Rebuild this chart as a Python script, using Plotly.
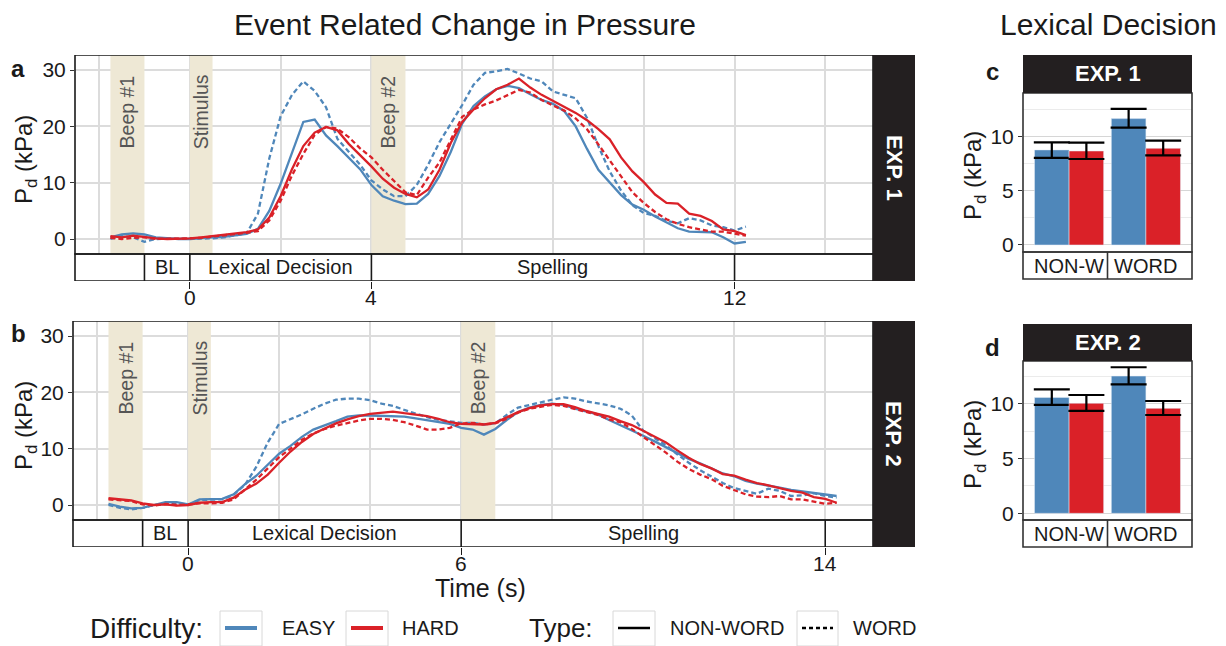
import plotly.graph_objects as go

# ---------------- data ----------------
TIME_1 = [-1.75, -1.5, -1.25, -1.0, -0.75, -0.5, -0.25, 0.0, 0.25, 0.5, 0.75, 1.0, 1.25, 1.5, 1.75,
          2.0, 2.25, 2.5, 2.75, 3.0, 3.25, 3.5, 3.75, 4.0, 4.25, 4.5, 4.75, 5.0, 5.25, 5.5, 5.75,
          6.0, 6.25, 6.5, 6.75, 7.0, 7.25, 7.5, 7.75, 8.0, 8.25, 8.5, 8.75, 9.0, 9.25, 9.5, 9.75,
          10.0, 10.25, 10.5, 10.75, 11.0, 11.25, 11.5, 11.75, 12.0, 12.25]

EASY_NONWORD_1 = [0.3, 0.8, 1.0, 0.8, 0.3, 0.1, 0.0, 0.0, 0.2, 0.3, 0.4, 0.6, 0.9, 1.8, 5.0,
                  9.8, 15.5, 20.8, 21.2, 18.4, 16.5, 14.5, 12.4, 9.6, 7.6, 6.8, 6.2, 6.3, 8.0, 11.2, 15.5,
                  20.5, 23.6, 25.3, 26.6, 27.2, 26.8, 25.7, 24.7, 24.0, 22.7, 20.0, 16.0, 12.3, 10.0, 7.8, 6.1,
                  5.2, 4.0, 3.0, 1.9, 1.3, 1.3, 1.2, 0.3, -0.8, -0.5]
EASY_WORD_1 = [0.0, 0.5, 0.3, -0.5, 0.0, 0.0, 0.0, 0.0, 0.0, 0.1, 0.3, 0.6, 1.0, 4.5, 14.3,
               21.8, 25.6, 28.0, 26.3, 23.4, 17.8, 15.5, 13.2, 10.4, 8.8, 7.6, 7.6, 9.6, 13.2, 17.2, 20.5,
               23.8, 27.4, 29.5, 29.8, 30.2, 29.4, 28.5, 28.0, 26.2, 25.6, 25.0, 21.5, 16.5, 12.0, 8.6, 6.0,
               4.6, 4.1, 3.2, 2.8, 3.7, 3.3, 2.4, 2.1, 1.5, 2.2]
HARD_NONWORD_1 = [0.5, 0.3, 0.6, 0.3, 0.1, 0.0, 0.0, 0.1, 0.3, 0.5, 0.7, 1.0, 1.2, 1.7, 3.8,
                  7.6, 12.4, 16.5, 18.9, 19.9, 19.3, 16.9, 14.9, 12.9, 10.7, 9.1, 8.0, 7.4, 8.8, 12.3, 17.1,
                  20.8, 23.0, 25.0, 26.6, 27.4, 28.5, 26.9, 25.6, 24.5, 23.4, 22.4, 21.1, 19.5, 17.7, 14.5, 12.0,
                  10.1, 7.9, 6.4, 6.3, 4.5, 4.1, 3.2, 1.7, 1.4, 0.7]
HARD_WORD_1 = [0.2, 0.0, 0.2, 0.3, 0.0, 0.0, 0.0, 0.1, 0.2, 0.4, 0.6, 0.9, 1.1, 1.4, 3.3,
               6.8, 11.3, 15.1, 18.5, 19.9, 19.6, 18.1, 16.1, 14.5, 12.3, 10.3, 8.3, 7.8, 10.9, 13.6, 17.6,
               21.7, 23.0, 23.9, 24.6, 25.6, 26.5, 26.0, 24.7, 23.7, 22.8, 21.4, 19.5, 16.8, 14.0, 11.0, 8.3,
               6.4, 4.8, 3.5, 2.7, 2.1, 1.7, 1.3, 1.3, 1.0, 0.6]

TIME_2 = [-1.75, -1.5, -1.25, -1.0, -0.75, -0.5, -0.25, 0.0, 0.25, 0.5, 0.75, 1.0, 1.25, 1.5, 1.75,
          2.0, 2.25, 2.5, 2.75, 3.0, 3.25, 3.5, 3.75, 4.0, 4.25, 4.5, 4.75, 5.0, 5.25, 5.5, 5.75,
          6.0, 6.25, 6.5, 6.75, 7.0, 7.25, 7.5, 7.75, 8.0, 8.25, 8.5, 8.75, 9.0, 9.25, 9.5, 9.75,
          10.0, 10.25, 10.5, 10.75, 11.0, 11.25, 11.5, 11.75, 12.0, 12.25, 12.5, 12.75, 13.0, 13.25,
          13.5, 13.75, 14.0, 14.25]

EASY_NONWORD_2 = [0.2, -0.3, -0.6, -0.5, 0.0, 0.5, 0.5, 0.1, 1.0, 1.1, 1.1, 1.9, 3.7, 5.2, 7.2,
                  9.1, 10.5, 12.1, 13.4, 14.1, 14.9, 15.7, 15.9, 15.9, 15.8, 15.8, 15.7, 15.4, 15.1, 14.8, 14.4,
                  13.7, 13.4, 12.5, 13.5, 15.1, 16.5, 17.3, 17.8, 18.0, 17.8, 17.1, 16.6, 16.1, 15.1, 14.2, 13.3,
                  12.3, 11.3, 10.3, 9.3, 8.2, 7.4, 6.5, 5.6, 5.1, 4.3, 3.8, 3.5, 3.1, 2.7,
                  2.4, 2.2, 1.9, 1.6]
EASY_WORD_2 = [0.0, -0.5, -0.8, -0.5, 0.0, 0.3, 0.3, 0.0, 0.9, 1.0, 1.0, 1.8, 3.6, 6.8, 11.1,
               14.4, 15.2, 16.1, 17.1, 18.0, 18.7, 18.9, 18.9, 18.6, 18.0, 17.6, 16.9, 16.2, 15.6, 15.1, 14.8,
               14.6, 14.6, 14.3, 14.5, 16.0, 17.3, 17.8, 18.3, 18.7, 19.1, 18.9, 18.4, 18.0, 17.7, 17.1, 15.9,
               13.2, 11.9, 10.6, 9.0, 7.5, 6.2, 5.1, 3.9, 3.0, 2.5, 2.0, 2.9, 2.5, 1.6,
               1.7, 2.1, 1.6, 1.3]
HARD_NONWORD_2 = [1.2, 1.0, 0.8, 0.3, 0.0, 0.1, -0.1, 0.0, 0.4, 0.5, 0.5, 1.3, 2.7, 3.8, 5.4,
                  7.5, 9.5, 11.2, 12.6, 13.6, 14.5, 15.2, 15.8, 16.2, 16.4, 16.6, 16.3, 16.0, 15.8, 15.3, 14.7,
                  14.4, 14.3, 14.3, 14.6, 15.6, 16.5, 17.2, 17.7, 17.9, 17.9, 17.4, 16.7, 16.2, 15.7, 14.9, 14.2,
                  13.2, 12.2, 11.1, 9.7, 8.4, 7.3, 6.5, 5.5, 5.2, 4.5, 3.9, 3.5, 3.0, 2.5,
                  2.2, 1.4, 1.1, 0.4]
HARD_WORD_2 = [1.0, 0.8, 0.7, 0.1, -0.1, 0.2, 0.0, 0.1, 0.3, 0.3, 0.4, 1.0, 2.8, 4.5, 6.5,
               8.5, 10.0, 11.6, 12.7, 13.5, 14.1, 14.6, 15.0, 15.3, 15.3, 15.1, 14.7, 14.1, 13.4, 13.4, 13.7,
               14.5, 14.6, 14.3, 14.5, 15.3, 16.4, 17.1, 17.5, 17.8, 17.6, 17.1, 16.6, 16.0, 15.2, 14.7, 13.5,
               12.1, 10.6, 9.3, 7.7, 6.4, 5.4, 4.6, 3.4, 2.6, 1.9, 1.5, 1.4, 1.6, 1.0,
               1.0, 0.6, 0.2, 0.4]

# event shading (start, end, label) and trial phases (start, end, label)
EVENTS_1 = [(-1.75, -1.0, "Beep #1"), (0.0, 0.5, "Stimulus"), (4.0, 4.75, "Beep #2")]
EVENTS_2 = [(-1.75, -1.0, "Beep #1"), (0.0, 0.5, "Stimulus"), (6.0, 6.75, "Beep #2")]
PHASES_1 = [(-1.0, 0.0, "BL"), (0.0, 4.0, "Lexical Decision"), (4.0, 12.0, "Spelling")]
PHASES_2 = [(-1.0, 0.0, "BL"), (0.0, 6.0, "Lexical Decision"), (6.0, 14.0, "Spelling")]
TICKS_1 = [0, 4, 12]
TICKS_2 = [0, 6, 14]

BAR_CATS = ["NON-W", "WORD"]
EXP1_EASY = [8.8, 11.7]
EXP1_EASY_LO = [8.07, 10.86]
EXP1_EASY_HI = [9.5, 12.6]
EXP1_HARD = [8.7, 8.95]
EXP1_HARD_LO = [7.96, 8.3]
EXP1_HARD_HI = [9.47, 9.66]
EXP2_EASY = [10.6, 12.55]
EXP2_EASY_LO = [9.91, 11.8]
EXP2_EASY_HI = [11.34, 13.36]
EXP2_HARD = [10.06, 9.6]
EXP2_HARD_LO = [9.36, 8.99]
EXP2_HARD_HI = [10.82, 10.27]

# ---------------- style ----------------
# the page body has an 8px default margin, so the figure is offset by 8px
OFF = 8
W, H = 1226 - OFF, 646 - OFF
FONT = "Liberation Sans, Arial, sans-serif"
BLUE = "#4F87BA"
RED = "#DA2128"
BEIGE = "#EEE8D5"
GRID = "#DCDCDC"
INK = "#1A1A1A"
STRIP = "#231F20"


def px(x):
    return (x - OFF) / W


def py(y):
    return 1 - (y - OFF) / H


fig = go.Figure()

series = [
    ("x", "y", TIME_1, [(EASY_NONWORD_1, BLUE, "solid"), (EASY_WORD_1, BLUE, "5px,3px"),
                        (HARD_NONWORD_1, RED, "solid"), (HARD_WORD_1, RED, "5px,3px")]),
    ("x2", "y2", TIME_2, [(EASY_NONWORD_2, BLUE, "solid"), (EASY_WORD_2, BLUE, "5px,3px"),
                          (HARD_NONWORD_2, RED, "solid"), (HARD_WORD_2, RED, "5px,3px")]),
]
for xa, ya, t, lines in series:
    for vals, col, dash in lines:
        fig.add_trace(go.Scatter(x=t, y=vals, mode="lines", xaxis=xa, yaxis=ya,
                                 line=dict(color=col, width=2.3, dash=dash),
                                 showlegend=False, hoverinfo="skip"))


def err(v, lo, hi):
    return dict(type="data", symmetric=False,
                array=[h - a for a, h in zip(v, hi)],
                arrayminus=[a - l for a, l in zip(v, lo)],
                color="black", thickness=2.2, width=18)


for xa, ya, e, elo, ehi, h, hlo, hhi in [
    ("x3", "y3", EXP1_EASY, EXP1_EASY_LO, EXP1_EASY_HI, EXP1_HARD, EXP1_HARD_LO, EXP1_HARD_HI),
    ("x4", "y4", EXP2_EASY, EXP2_EASY_LO, EXP2_EASY_HI, EXP2_HARD, EXP2_HARD_LO, EXP2_HARD_HI),
]:
    fig.add_trace(go.Bar(x=BAR_CATS, y=e, marker_color=BLUE, xaxis=xa, yaxis=ya,
                         error_y=err(e, elo, ehi), showlegend=False, hoverinfo="skip"))
    fig.add_trace(go.Bar(x=BAR_CATS, y=h, marker_color=RED, xaxis=xa, yaxis=ya,
                         error_y=err(h, hlo, hhi), showlegend=False, hoverinfo="skip"))

# ---------------- axes ----------------
TS_YRANGE = [-7.46, 32.68]
BAND_TOP = -2.66
BAND_MID = (TS_YRANGE[0] + BAND_TOP) / 2


def ts_x(domain, ticks, anchor):
    return dict(domain=domain, range=[-2.53, 15.05], anchor=anchor, tickvals=ticks,
                showticklabels=False,
                ticks="outside", ticklen=7, tickwidth=1.4, tickcolor=INK,
                showgrid=True, gridcolor=GRID, gridwidth=1.8, zeroline=False, showline=False,
                minor=dict(dtick=2, tick0=0, showgrid=True, gridcolor=GRID, gridwidth=1.8))


def ts_y(domain, anchor):
    return dict(domain=domain, range=TS_YRANGE, anchor=anchor, tickvals=[0, 10, 20, 30],
                ticks="outside", ticklen=4, tickwidth=1.2, tickcolor="#333",
                showgrid=True, gridcolor=GRID, gridwidth=1.8, zeroline=False, showline=False,
                tickfont=dict(family=FONT, size=21, color=INK))


def bar_x(anchor):
    return dict(domain=[px(1023), px(1192)], range=[-0.6, 1.6], anchor=anchor, type="category",
                showticklabels=False, ticks="", showgrid=False, zeroline=False, showline=False)


def bar_y(domain, rng, anchor):
    return dict(domain=domain, range=rng, anchor=anchor, tickvals=[0, 5, 10],
                ticks="outside", ticklen=4, tickwidth=1.2, tickcolor="#333",
                showgrid=True, gridcolor="#D6D6D6", gridwidth=1.4, zeroline=False, showline=False,
                minor=dict(dtick=2.5, tick0=0, showgrid=True, gridcolor="#EBEBEB", gridwidth=1),
                tickfont=dict(family=FONT, size=21, color=INK))


fig.update_layout(
    width=W, height=H, autosize=False,
    margin=dict(l=0, r=0, t=0, b=0),
    paper_bgcolor="white", plot_bgcolor="white",
    barmode="group", bargap=0.1, bargroupgap=0,
    font=dict(family=FONT, color=INK),
    xaxis=ts_x([px(75), px(873)], TICKS_1, "y"),
    yaxis=ts_y([py(281), py(55)], "x"),
    xaxis2=ts_x([px(73), px(873)], TICKS_2, "y2"),
    yaxis2=ts_y([py(547), py(321)], "x2"),
    xaxis3=bar_x("y3"),
    yaxis3=bar_y([py(279), py(93)], [-3.15, 14.07], "x3"),
    xaxis4=bar_x("y4"),
    yaxis4=bar_y([py(547), py(361)], [-3.08, 13.93], "x4"),
)

shapes = []
ann = []

# time-series panels
for xa, ya, events, phases, ticks, tick_y, strip_y, label_y, strip_txt in [
    ("x", "y", EVENTS_1, PHASES_1, TICKS_1, 297, (55, 281), 112, "EXP. 1"),
    ("x2", "y2", EVENTS_2, PHASES_2, TICKS_2, 563, (321, 547), 378, "EXP. 2"),
]:
    for s, e, lab in events:
        shapes.append(dict(type="rect", xref=xa, yref=ya, x0=s, x1=e, y0=BAND_TOP, y1=TS_YRANGE[1],
                           fillcolor=BEIGE, line=dict(width=0), layer="between"))
        ann.append(dict(text=lab, xref=xa, yref="paper", x=(s + e) / 2, y=py(label_y),
                        textangle=-90, showarrow=False, xanchor="center", yanchor="middle",
                        font=dict(family=FONT, size=19.5, color="#555555")))
    # phase band
    shapes.append(dict(type="rect", xref=xa + " domain", yref=ya, x0=0, x1=1,
                       y0=TS_YRANGE[0], y1=BAND_TOP, fillcolor="white",
                       line=dict(color=INK, width=1.6), layer="above"))
    bounds = sorted({p[0] for p in phases} | {p[1] for p in phases})
    for b in bounds:
        shapes.append(dict(type="line", xref=xa, yref=ya, x0=b, x1=b, y0=TS_YRANGE[0], y1=BAND_TOP,
                           line=dict(color=INK, width=1.6), layer="above"))
    for s, e, lab in phases:
        ann.append(dict(text=lab, xref=xa, yref=ya, x=(s + e) / 2, y=BAND_MID, showarrow=False,
                        xanchor="center", yanchor="middle", font=dict(family=FONT, size=20, color=INK)))
    for tv in ticks:
        ann.append(dict(text=str(tv), xref=xa, yref="paper", x=tv, y=py(tick_y), showarrow=False,
                        xanchor="center", yanchor="middle", font=dict(family=FONT, size=21, color=INK)))
    # panel border
    shapes.append(dict(type="rect", xref=xa + " domain", yref=ya, x0=0, x1=1,
                       y0=BAND_TOP, y1=TS_YRANGE[1], line=dict(color=INK, width=1.6), layer="above"))
    # strip
    shapes.append(dict(type="rect", xref="paper", yref="paper", x0=px(873), x1=px(915),
                       y0=py(strip_y[1]), y1=py(strip_y[0]), fillcolor=STRIP, line=dict(width=0)))
    ann.append(dict(text="<b>" + strip_txt + "</b>", xref="paper", yref="paper", x=px(894),
                    y=py((strip_y[0] + strip_y[1]) / 2), textangle=90, showarrow=False,
                    xanchor="center", yanchor="middle", font=dict(family=FONT, size=22, color="white")))

# bar panels
for xa, ya, band, strip_y, strip_txt in [
    ("x3", "y3", (252, 279), (55, 93), "EXP. 1"),
    ("x4", "y4", (520, 547), (324, 361), "EXP. 2"),
]:
    shapes.append(dict(type="rect", xref=xa + " domain", yref="paper", x0=0, x1=1,
                       y0=py(band[1]), y1=py(band[0]), fillcolor="white",
                       line=dict(color="#333", width=1.6), layer="above"))
    shapes.append(dict(type="line", xref=xa, yref="paper", x0=0.5, x1=0.5,
                       y0=py(band[1]), y1=py(band[0]), line=dict(color="#333", width=1.6), layer="above"))
    for c in BAR_CATS:
        ann.append(dict(text=c, xref=xa, yref="paper", x=c, y=py((band[0] + band[1]) / 2),
                        showarrow=False, xanchor="center", yanchor="middle",
                        font=dict(family=FONT, size=20, color=INK)))
    shapes.append(dict(type="rect", xref=xa + " domain", yref="paper", x0=0, x1=1,
                       y0=py(band[0]), y1=py(strip_y[1]), line=dict(color="#333", width=1.6), layer="above"))
    shapes.append(dict(type="rect", xref=xa + " domain", yref="paper", x0=0, x1=1,
                       y0=py(strip_y[1]), y1=py(strip_y[0]), fillcolor=STRIP, line=dict(width=0)))
    ann.append(dict(text="<b>" + strip_txt + "</b>", xref=xa + " domain", yref="paper", x=0.5,
                    y=py((strip_y[0] + strip_y[1]) / 2), showarrow=False, xanchor="center",
                    yanchor="middle", font=dict(family=FONT, size=22, color="white")))

# titles and labels
ann += [
    dict(text="Event Related Change in Pressure", x=px(465), y=py(24), xref="paper", yref="paper",
         showarrow=False, xanchor="center", yanchor="middle", font=dict(family=FONT, size=30, color=INK)),
    dict(text="Lexical Decision", x=px(1108), y=py(24), xref="paper", yref="paper",
         showarrow=False, xanchor="center", yanchor="middle", font=dict(family=FONT, size=30, color=INK)),
    dict(text="Time (s)", x=px(480), y=py(588), xref="paper", yref="paper",
         showarrow=False, xanchor="center", yanchor="middle", font=dict(family=FONT, size=25, color=INK)),
]
for letter, xl, yl in [("a", 18, 68), ("b", 18, 333), ("c", 992, 72), ("d", 992, 347)]:
    ann.append(dict(text="<b>" + letter + "</b>", x=px(xl), y=py(yl), xref="paper", yref="paper",
                    showarrow=False, xanchor="center", yanchor="middle",
                    font=dict(family=FONT, size=24, color=INK)))
for xl, yl in [(25, 160), (25, 426), (974, 176), (974, 445)]:
    ann.append(dict(text="P<sub>d</sub> (kPa)", x=px(xl), y=py(yl), xref="paper", yref="paper",
                    textangle=-90, showarrow=False, xanchor="center", yanchor="middle",
                    font=dict(family=FONT, size=24, color=INK)))

# legend (manual)
LEG_Y = 628
ann.append(dict(text="Difficulty:", x=px(88), y=py(LEG_Y), xref="paper", yref="paper", showarrow=False,
                xanchor="left", yanchor="middle", font=dict(family=FONT, size=28, color=INK)))
ann.append(dict(text="Type:", x=px(527), y=py(LEG_Y), xref="paper", yref="paper", showarrow=False,
                xanchor="left", yanchor="middle", font=dict(family=FONT, size=26, color=INK)))
for x0, x1, col, dash, lab, lx in [
    (220, 262, BLUE, "solid", "EASY", 280),
    (346, 388, RED, "solid", "HARD", 400),
    (613, 655, "black", "solid", "NON-WORD", 668),
    (797, 838, "black", "4px,3px", "WORD", 851),
]:
    shapes.append(dict(type="rect", xref="paper", yref="paper", x0=px(x0), x1=px(x1),
                       y0=py(646), y1=py(611), line=dict(color="#D8D8D8", width=1), fillcolor="white"))
    shapes.append(dict(type="line", xref="paper", yref="paper", x0=px(x0 + 5), x1=px(x1 - 5),
                       y0=py(LEG_Y), y1=py(LEG_Y),
                       line=dict(color=col, width=4 if col != "black" else 2.5, dash=dash)))
    ann.append(dict(text=lab, x=px(lx), y=py(LEG_Y), xref="paper", yref="paper", showarrow=False,
                    xanchor="left", yanchor="middle", font=dict(family=FONT, size=20, color=INK)))

fig.update_layout(shapes=shapes, annotations=ann)
fig.write_html("out.html")
